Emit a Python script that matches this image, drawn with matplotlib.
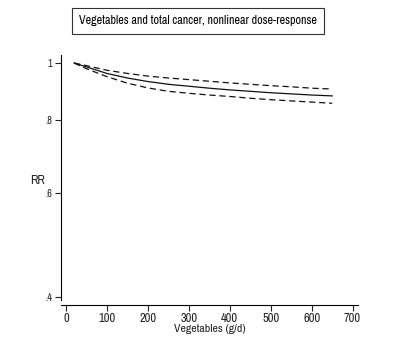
import matplotlib
matplotlib.use("Agg")
import matplotlib.pyplot as plt
from matplotlib.ticker import FixedLocator, NullLocator

# vegetable intake (g/d) and relative risk with 95% CI
veg = [20, 50, 100, 150, 200, 250, 300, 350, 400, 450, 500, 550, 600, 650]
rr = [1.0, 0.985, 0.960, 0.943, 0.930, 0.920, 0.913, 0.906, 0.900, 0.895, 0.890, 0.886, 0.882, 0.879]
rr_hi = [1.0, 0.990, 0.972, 0.960, 0.950, 0.943, 0.937, 0.931, 0.925, 0.920, 0.915, 0.911, 0.906, 0.903]
rr_lo = [1.0, 0.978, 0.948, 0.924, 0.907, 0.895, 0.888, 0.882, 0.877, 0.871, 0.866, 0.862, 0.858, 0.854]

xticks = [0, 100, 200, 300, 400, 500, 600, 700]
yticks = [0.4, 0.6, 0.8, 1.0]
ylabels = [".4", ".6", ".8", "1"]

plt.rcParams['font.family'] = ['Archivo Narrow', 'DejaVu Sans']

fig = plt.figure(figsize=(4.15, 3.46), dpi=100)
W, H = 415, 346
ax = fig.add_axes([61 / W, 1 - 305 / H, (358 - 61) / W, (305 - 55) / H])

dash = (0, (5, 3))
ax.plot(veg, rr, color='#111111', lw=0.9)
ax.plot(veg, rr_hi, color='#111111', lw=0.9, ls=dash)
ax.plot(veg, rr_lo, color='#111111', lw=0.9, ls=dash)

ax.set_yscale('log')
ax.set_xlim(-12, 713)
ax.set_ylim(0.387, 1.032)
ax.yaxis.set_major_locator(FixedLocator(yticks))
ax.yaxis.set_minor_locator(NullLocator())
ax.set_yticklabels(ylabels)
ax.set_xticks(xticks)

for side in ['top', 'right']:
    ax.spines[side].set_visible(False)
ax.spines['left'].set_bounds(0.395, 1.03)
ax.spines['left'].set_linewidth(0.8)
ax.spines['bottom'].set_linewidth(0.8)
ax.tick_params(length=4, width=0.8, pad=2, colors='#222222')
ax.tick_params(axis='x', labelsize=9)
ax.tick_params(axis='y', labelsize=7.5)

ax.set_xlabel("Vegetables (g/d)", fontsize=8.5, labelpad=0, color='#222222')
ax.set_ylabel("RR", fontsize=9, rotation=0, labelpad=6, va='center', color='#222222')

fig.text(198 / W, 1 - 21 / H, "Vegetables and total cancer, nonlinear dose-response",
         ha='center', va='center', fontsize=8.7,
         bbox=dict(boxstyle='square,pad=0.6', fc='white', ec='#333333', lw=0.8))

fig.savefig("out.png", dpi=100)
